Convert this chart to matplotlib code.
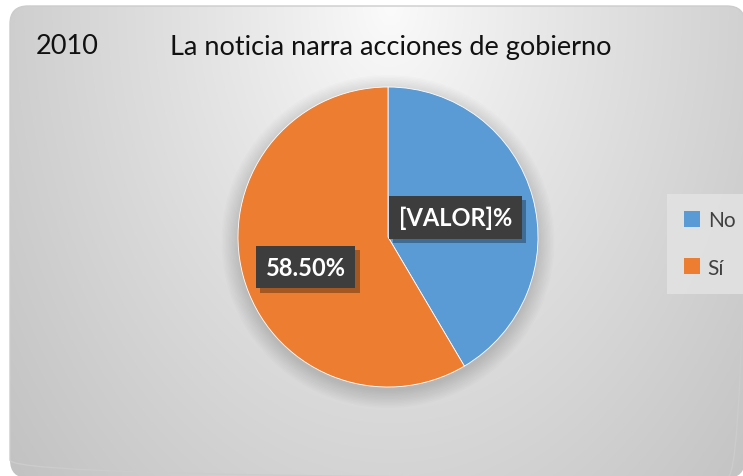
import numpy as np
import matplotlib
matplotlib.use("Agg")
import matplotlib.pyplot as plt
from matplotlib.patches import FancyBboxPatch, Circle, Patch
import matplotlib.patheffects as pe

# --- data ---
categories = ["No", "Sí"]
values = [41.5, 58.5]
label_texts = ["[VALOR]%", "58.50%"]
colors = ["#5B9BD5", "#ED7D31"]
title_year = "2010"
title_text = "La noticia narra acciones de gobierno"

W, H = 743, 477
fig = plt.figure(figsize=(W / 100, H / 100), dpi=100)
fig.patch.set_facecolor("white")

# --- background: rounded panel with radial gradient ---
bg = fig.add_axes([0, 0, 1, 1])
bg.set_xlim(0, W)
bg.set_ylim(H, 0)
bg.axis("off")
yy, xx = np.mgrid[0:H, 0:W]
d = np.hypot(xx - 390, (yy - 7) * 0.7) / 380.0
shade = np.clip(0.985 - 0.175 * d ** 0.9, 0, 1)
img = np.dstack([shade, shade, shade])
panel = FancyBboxPatch((10, 7), 735, 472, boxstyle="round,pad=0,rounding_size=18",
                       fc="none", ec="#cccccc", lw=1.0, transform=bg.transData)
bg.add_patch(panel)
im = bg.imshow(img, extent=(0, W, H, 0), zorder=0)
im.set_clip_path(panel)

# --- title ---
fig.text(36 / W, 1 - 47 / H, title_year, fontsize=19.5, family="Lato", va="center", color="#111111")
fig.text(170 / W, 1 - 47 / H, title_text, fontsize=19.5, family="Lato", va="center", color="#111111")

# --- pie ---
cx, cy, rad = 388, 238, 150
ax = fig.add_axes([(cx - rad) / W, (H - cy - rad) / H, 2 * rad / W, 2 * rad / H])

wedges, _ = ax.pie(values, colors=colors, startangle=90, counterclock=False, radius=1.0,
                   wedgeprops=dict(lw=0.6, ec="white"))
for w in wedges:
    w.set_zorder(2)
ax.set_xlim(-1, 1)
ax.set_ylim(-1, 1)
ax.set_aspect("equal")
ax.axis("off")

# soft shadow behind the pie, mostly below
for i in range(12):
    ax.add_patch(Circle((0, -0.03), 1.0 + i * 0.01, fc="black", alpha=0.012, lw=0, zorder=0,
                        clip_on=False))

label_pos = [(0.45, 0.13), (-0.55, -0.2)]
for (lx, ly), txt in zip(label_pos, label_texts):
    t = ax.text(lx, ly, txt, fontsize=17, family="Lato", fontweight="bold", color="white",
                ha="center", va="center", zorder=5,
                bbox=dict(boxstyle="square,pad=0.42", fc="#3d3d3d", ec="none"))
    t.get_bbox_patch().set_path_effects([
        pe.SimplePatchShadow(offset=(3, -3), shadow_rgbFace="black", alpha=0.3),
        pe.Normal()])

# --- legend ---
handles = [Patch(fc=c, ec="none") for c in colors]
leg = fig.legend(handles, categories, loc="center left", bbox_to_anchor=(667 / W, 1 - 245 / H),
                 frameon=True, fancybox=False, labelspacing=1.3,
                 handlelength=0.8, handleheight=0.8, handletextpad=0.35,
                 borderpad=0.8, borderaxespad=0,
                 prop=dict(family="Lato", size=15))
leg.get_frame().set_facecolor("#e4e4e4")
leg.get_frame().set_edgecolor("none")
for t in leg.get_texts():
    t.set_color("#404040")

fig.savefig("out.png", dpi=100)
